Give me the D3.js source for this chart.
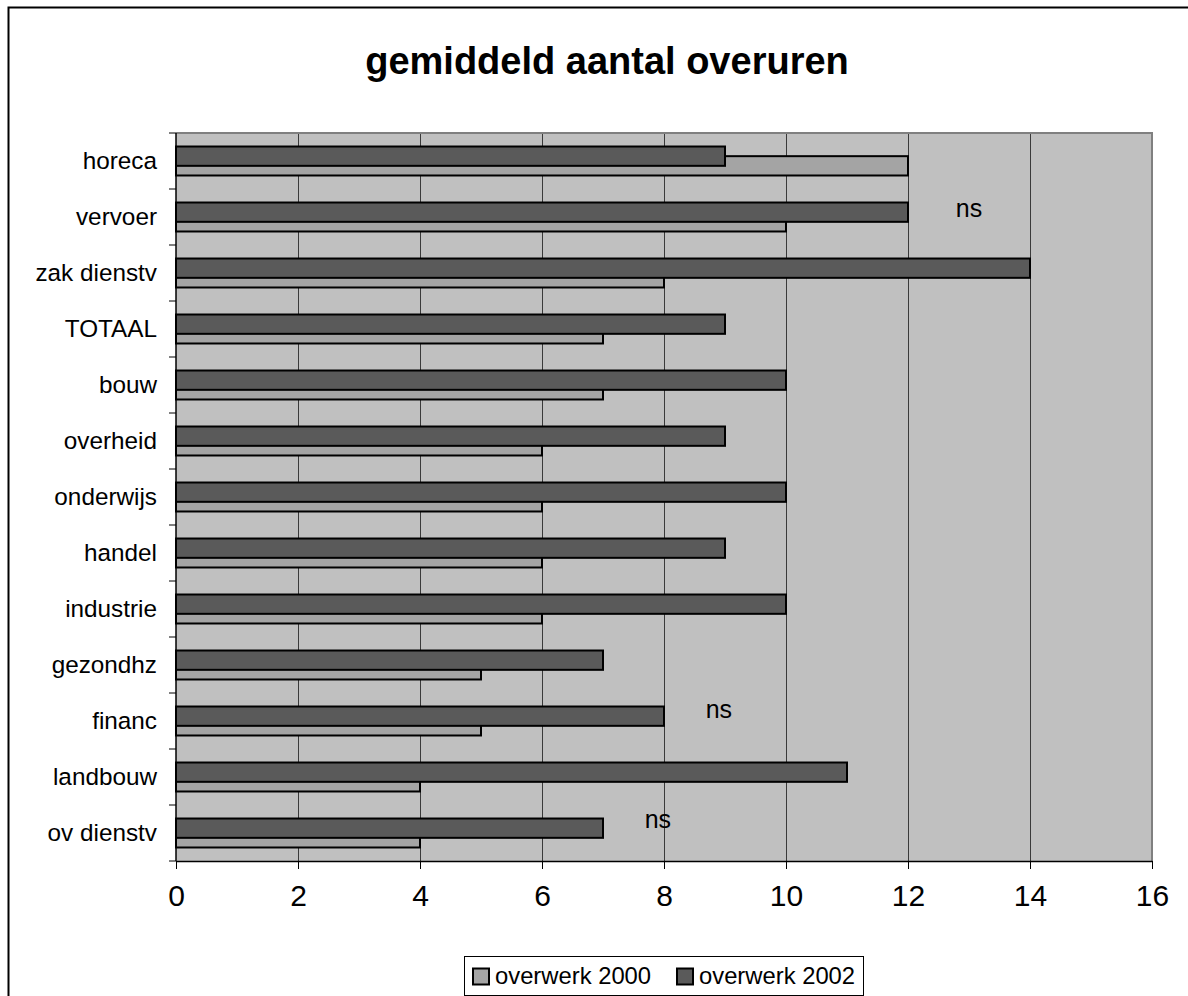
<!DOCTYPE html>
<html>
<head>
<meta charset="utf-8">
<script src="https://cdn.jsdelivr.net/npm/d3@7/dist/d3.min.js"></script>
<style>
  html, body { margin: 0; padding: 0; background: #fff; }
  svg { display: block; font-family: Arial, "Liberation Sans", sans-serif; }
</style>
</head>
<body>
<svg id="chart" width="1188" height="996"></svg>
<script>
// Sectors, top to bottom
const categories = ["horeca", "vervoer", "zak dienstv", "TOTAAL", "bouw", "overheid",
  "onderwijs", "handel", "industrie", "gezondhz", "financ", "landbouw", "ov dienstv"];
// Average overtime hours per sector
const overwerk2000 = [12, 10, 8, 7, 7, 6, 6, 6, 6, 5, 5, 4, 4];
const overwerk2002 = [9, 12, 14, 9, 10, 9, 10, 9, 10, 7, 8, 11, 7];
const seriesNames = ["overwerk 2000", "overwerk 2002"];
const xTicks = [0, 2, 4, 6, 8, 10, 12, 14, 16];
// "not significant" markers: sector and horizontal value position
const noteCats = ["vervoer", "financ", "ov dienstv"];
const noteVals = [13, 8.9, 7.9];
const noteText = "ns";
const title = "gemiddeld aantal overuren";

const svg = d3.select("#chart");
const plot = { left: 176, right: 1152, top: 133, bottom: 861 };

const x = d3.scaleLinear().domain([0, 16]).range([plot.left, plot.right]);
const y = d3.scaleBand().domain(categories).range([plot.top, plot.bottom]).padding(0);

const colors = { bg: "#c0c0c0", s2000: "#a4a4a4", s2002: "#5a5a5a" };

// outer frame
svg.append("rect")
  .attr("x", 8.5).attr("y", 7.5).attr("width", 1200).attr("height", 1000)
  .attr("fill", "none").attr("stroke", "#000").attr("stroke-width", 2);

// title
svg.append("text")
  .attr("x", 607).attr("y", 74)
  .attr("text-anchor", "middle")
  .attr("font-weight", "bold").attr("font-size", 38)
  .text(title);

// plot background
svg.append("rect")
  .attr("x", plot.left).attr("y", plot.top)
  .attr("width", plot.right - plot.left).attr("height", plot.bottom - plot.top)
  .attr("fill", colors.bg);

// vertical gridlines
svg.append("g").selectAll("line")
  .data(xTicks.filter(d => d > 0 && d < 16))
  .join("line")
  .attr("x1", d => x(d)).attr("x2", d => x(d))
  .attr("y1", plot.top).attr("y2", plot.bottom)
  .attr("stroke", "#3a3a3a").attr("stroke-width", 1)
  .attr("shape-rendering", "crispEdges");

// top and right border of plot area
svg.append("path")
  .attr("d", `M${plot.left},${plot.top}H${plot.right}V${plot.bottom}`)
  .attr("fill", "none").attr("stroke", "#808080").attr("stroke-width", 2);

// bars: 2000 series drawn first, 2002 overlaps it by half a bar
const bw = y.bandwidth();
const barH = bw * 0.345;
const groupH = barH * 1.5;
const top2002 = d => y(d) + (bw - groupH) / 2;
const top2000 = d => top2002(d) + barH / 2;

svg.append("g").selectAll("rect")
  .data(categories.map((c, i) => ({ c, v: overwerk2000[i] })))
  .join("rect")
  .attr("x", x(0)).attr("y", d => top2000(d.c))
  .attr("width", d => x(d.v) - x(0)).attr("height", barH)
  .attr("fill", colors.s2000).attr("stroke", "#000").attr("stroke-width", 2);

svg.append("g").selectAll("rect")
  .data(categories.map((c, i) => ({ c, v: overwerk2002[i] })))
  .join("rect")
  .attr("x", x(0)).attr("y", d => top2002(d.c))
  .attr("width", d => x(d.v) - x(0)).attr("height", barH)
  .attr("fill", colors.s2002).attr("stroke", "#000").attr("stroke-width", 2);

// x axis
const xAxis = svg.append("g")
  .attr("transform", `translate(0,${plot.bottom})`)
  .call(d3.axisBottom(x).tickValues(xTicks).tickSize(8).tickPadding(16).tickSizeOuter(0));
xAxis.select(".domain").attr("stroke", "#000").attr("stroke-width", 1.5);
xAxis.selectAll(".tick line").attr("stroke", "#000");
xAxis.selectAll(".tick text").attr("font-size", 30).attr("fill", "#000")
  .attr("font-family", "Arial, 'Liberation Sans', sans-serif");

// y axis: ticks at band boundaries
const yAxisG = svg.append("g");
yAxisG.append("line")
  .attr("x1", plot.left).attr("x2", plot.left)
  .attr("y1", plot.top).attr("y2", plot.bottom)
  .attr("stroke", "#000").attr("stroke-width", 1.5);
yAxisG.selectAll("line.tk")
  .data(categories.map(c => y(c)).concat([plot.bottom]))
  .join("line").attr("class", "tk")
  .attr("x1", plot.left - 7).attr("x2", plot.left)
  .attr("y1", d => d).attr("y2", d => d)
  .attr("stroke", "#000").attr("stroke-width", 1);
yAxisG.selectAll("text")
  .data(categories)
  .join("text")
  .attr("x", 157).attr("y", d => y(d) + bw / 2 + 8)
  .attr("text-anchor", "end").attr("font-size", 24.3)
  .text(d => d);

// ns markers
const noteDy = [0, -3, -5];
svg.append("g").selectAll("text")
  .data(noteCats.map((c, i) => ({ c, v: noteVals[i], dy: noteDy[i] })))
  .join("text")
  .attr("x", d => x(d.v)).attr("y", d => y(d.c) + bw / 2 + d.dy)
  .attr("text-anchor", "middle").attr("font-size", 25)
  .text(noteText);

// legend
const legend = svg.append("g");
legend.append("rect")
  .attr("x", 464.5).attr("y", 956.5).attr("width", 399).attr("height", 39)
  .attr("fill", "#fff").attr("stroke", "#000").attr("stroke-width", 1);
const legX = [473, 677];
const legCol = [colors.s2000, colors.s2002];
seriesNames.forEach((name, i) => {
  legend.append("rect")
    .attr("x", legX[i]).attr("y", 968.5).attr("width", 16).attr("height", 16)
    .attr("fill", legCol[i]).attr("stroke", "#000").attr("stroke-width", 2);
  legend.append("text")
    .attr("x", legX[i] + 22).attr("y", 984)
    .attr("font-size", 23.8)
    .text(name);
});
</script>
</body>
</html>
